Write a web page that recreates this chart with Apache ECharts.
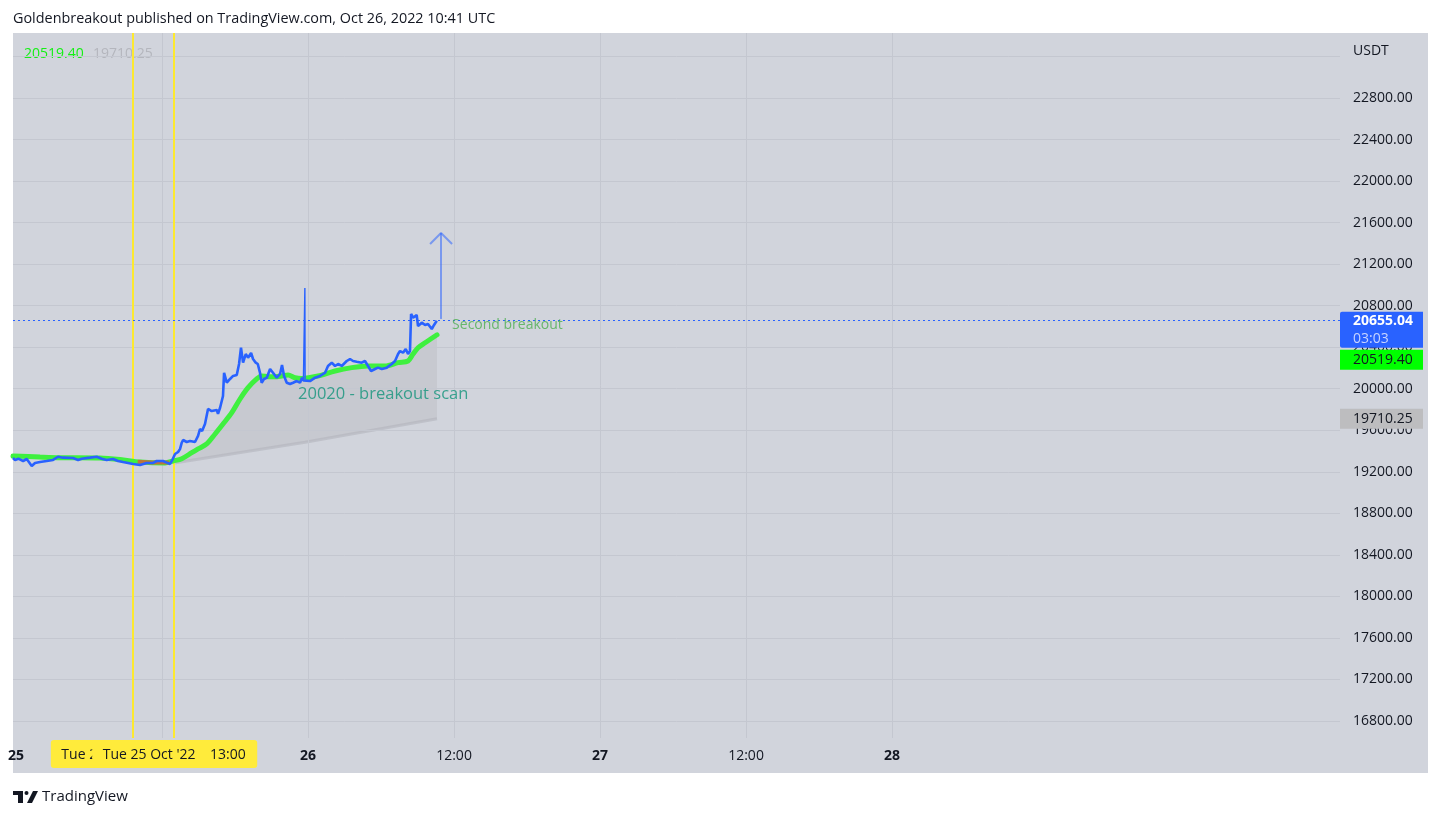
<!DOCTYPE html>
<html><head><meta charset="utf-8">
<script src="https://cdn.jsdelivr.net/npm/echarts@6/dist/echarts.min.js"></script>
<style>html,body{margin:0;padding:0;background:#fff;}#c{width:1441px;height:818px;}</style>
</head><body><div id="c"></div>
<script>
// time = hours since Tue 25 Oct 2022 00:00 UTC, values in USDT
const priceTimes = [-0.25,-0.08,0.19,0.58,0.88,1.29,1.56,1.97,2.52,3.04,3.45,3.86,4.68,5.10,5.40,6.08,6.63,7.04,7.45,7.97,8.38,8.79,9.21,9.62,10.19,10.74,11.26,11.56,12.08,12.39,12.66,12.88,13.07,13.32,13.48,13.62,13.73,14.03,14.30,14.71,14.96,15.12,15.29,15.53,15.78,16.08,16.50,16.60,16.77,17.01,17.10,17.32,17.59,17.84,18.14,18.33,18.49,18.66,18.88,19.07,19.32,19.48,19.70,19.87,20.05,20.19,20.38,20.61,20.88,21.12,21.43,21.70,21.86,22.03,22.25,22.52,22.77,23.07,23.34,23.51,23.62,23.76,24.16,24.58,24.99,25.40,25.64,25.95,26.22,26.47,26.77,27.18,27.45,27.70,28.00,28.41,28.68,28.93,29.18,29.51,29.75,30.06,30.47,30.88,31.15,31.40,31.56,31.81,32.03,32.22,32.38,32.47,32.63,32.93,33.04,33.35,33.62,33.86,34.17,34.36,34.58];
const priceValues = [19333,19314,19326,19304,19323,19256,19285,19294,19304,19314,19345,19336,19333,19314,19326,19336,19345,19326,19314,19323,19304,19294,19285,19275,19265,19285,19285,19304,19304,19288,19275,19323,19371,19391,19420,19480,19506,19487,19497,19487,19545,19612,19593,19660,19805,19785,19795,19757,19817,19930,20154,20058,20094,20123,20132,20238,20395,20251,20334,20299,20344,20286,20251,20238,20154,20058,20094,20106,20190,20154,20106,20142,20229,20123,20058,20046,20058,20074,20058,20106,20080,20094,20074,20106,20123,20154,20219,20251,20219,20238,20219,20267,20286,20267,20260,20251,20267,20219,20171,20190,20203,20190,20203,20238,20267,20334,20363,20347,20383,20334,20363,20720,20684,20710,20604,20636,20614,20623,20575,20614,20655.04];
// single-candle wick spike near 23:45
const spikeTimes = [23.62, 23.74, 23.76];
const spikeValues = [20080, 20970, 20094];

const maTimes = [-0.25,1.97,3.62,6.90,8.55,10.19,12.25,12.90,13.62,14.44,14.96,15.67,16.36,17.01,17.73,18.41,19.07,19.78,20.19,20.71,21.29,21.84,22.36,22.93,23.48,24.82,26.22,27.59,28.93,30.33,31.40,32.22,32.63,33.04,33.62,34.17,34.60];
const maValues = [19352,19342,19336,19333,19318,19294,19285,19304,19326,19384,19420,19468,19564,19660,19769,19901,20010,20094,20123,20116,20116,20123,20132,20106,20099,20123,20171,20203,20219,20219,20251,20267,20334,20395,20443,20486,20519.40];

const maRedTimes = [10.0,11.2,12.6];
const maRedValues = [19296,19289,19290];

const bandTimes = [13.0,23.75,34.60];
const bandValues = [19285,19485,19710.25];

const yTicks = [16800,17200,17600,18000,18400,18800,19200,19600,20000,20400,20800,21200,21600,22000,22400,22800];
const yGridValues = [16800,17200,17600,18000,18400,18800,19200,19600,20000,20400,20800,21200,21600,22000,22400,22800,23200];
const xTicks = [0,12,24,36,48,60,72];
const xTickLabels = ['25','12:00','26','12:00','27','12:00','28'];
const xGridValues = [12,24,36,48,60,72];

const markerTimes = [9.6, 13.0];
const markerLabels = ["Tue 25 Oct '22    09:36", "Tue 25 Oct '22    13:00"];

const lastPrice = 20655.04, lastMA = 20519.40, lastBand = 19710.25;
const countdown = '03:03';

const arrowShaftTimes = [34.93, 34.93];
const arrowShaftValues = [20672, 21500];
const arrowHeadTimes = [34.03, 34.93, 35.84];
const arrowHeadValues = [21394, 21500, 21394];

const noteTexts = ['Second breakout', '20020 - breakout scan'];
const noteTimes = [35.84, 23.18];
const noteValues = [20614, 19949];

const headerText = 'Goldenbreakout published on TradingView.com, Oct 26, 2022 10:41 UTC';

const zip = (a, b) => a.map((v, i) => [v, b[i]]);
const FONT = '"Open Sans", sans-serif';
const TXT = '#131722';

const chart = echarts.init(document.getElementById('c'), null, {renderer: 'canvas'});

const fillPts = [];
maTimes.forEach((t, i) => { if (t >= 12.9) fillPts.push([t, maValues[i]]); });
for (let i = bandTimes.length - 1; i >= 0; i--) fillPts.push([bandTimes[i], bandValues[i]]);

const option = {
  backgroundColor: '#ffffff',
  animation: false,
  grid: {left: 13, right: 101, top: 33, bottom: 80, containLabel: false},
  xAxis: {
    type: 'value', min: -0.25, max: 108.82,
    axisLine: {show: false}, axisTick: {show: false}, splitLine: {show: false},
    axisLabel: {
      customValues: xTicks, margin: 11, color: TXT, fontSize: 14, fontFamily: FONT,
      formatter: v => {
        const i = xTicks.indexOf(v);
        const s = i >= 0 ? xTickLabels[i] : '';
        return s.indexOf(':') >= 0 ? s : '{b|' + s + '}';
      },
      rich: {b: {fontWeight: 'bold', fontSize: 14, color: TXT, fontFamily: FONT}}
    }
  },
  yAxis: {
    type: 'value', position: 'right', min: 16636, max: 23426,
    axisLine: {show: false}, axisTick: {show: false}, splitLine: {show: false},
    axisLabel: {
      customValues: yTicks, margin: 13, color: TXT, fontSize: 14, fontFamily: FONT,
      formatter: v => v.toFixed(2)
    }
  },
  series: [
    {
      type: 'line', data: [[-0.25, 16800]], symbol: 'none', lineStyle: {opacity: 0}, z: 1, silent: true,
      markLine: {
        silent: true, symbol: ['none', 'none'], label: {show: false},
        lineStyle: {color: '#c4c7d0', width: 1, type: 'solid'},
        data: xGridValues.map(v => ({xAxis: v})).concat(yGridValues.map(v => ({yAxis: v})))
      }
    },
    {
      type: 'custom', z: 2, silent: true, data: [0],
      renderItem: (params, api) => ({
        type: 'polygon',
        shape: {points: fillPts.map(p => api.coord(p))},
        style: {fill: 'rgba(185,186,190,0.40)'}
      })
    },
    {
      type: 'line', data: zip(bandTimes, bandValues), symbol: 'none', z: 3, silent: true,
      lineStyle: {color: 'rgba(178,180,188,0.6)', width: 3}
    },
    {
      type: 'line', data: [[-0.25, 19300]], symbol: 'none', lineStyle: {opacity: 0}, z: 4, silent: true,
      markLine: {
        silent: true, symbol: ['none', 'none'], label: {show: false},
        data: markerTimes.map(v => ({xAxis: v, lineStyle: {color: '#fde92f', width: 2, type: 'solid'}}))
          .concat([{yAxis: lastPrice, lineStyle: {color: '#2962ff', width: 1.2, type: [2, 3]}}])
      }
    },
    {
      type: 'line', data: zip(maTimes, maValues), symbol: 'none', smooth: 0.3, z: 5, silent: true,
      lineStyle: {color: '#3ff03f', width: 5, cap: 'round'}
    },
    {
      type: 'line', data: zip(maRedTimes, maRedValues), symbol: 'none', z: 6, silent: true,
      lineStyle: {color: '#d4603a', width: 4, opacity: 0.85}
    },
    {
      type: 'line', data: zip(priceTimes, priceValues), symbol: 'none', z: 7, silent: true,
      lineStyle: {color: '#2962ff', width: 2.6}
    },
    {
      type: 'line', data: zip(spikeTimes, spikeValues), symbol: 'none', z: 7, silent: true,
      lineStyle: {color: '#2962ff', width: 1.4}
    },
    {
      type: 'line', data: zip(arrowShaftTimes, arrowShaftValues), symbol: 'none', z: 8, silent: true,
      lineStyle: {color: 'rgba(41,98,255,0.52)', width: 2}
    },
    {
      type: 'line', data: zip(arrowHeadTimes, arrowHeadValues), symbol: 'none', z: 8, silent: true,
      lineStyle: {color: 'rgba(41,98,255,0.52)', width: 2}
    },
    {
      type: 'scatter', symbolSize: 0, z: 9, silent: true,
      data: [{value: [noteTimes[0], noteValues[0]], name: noteTexts[0]}],
      label: {show: true, position: 'right', distance: 0, formatter: p => p.name, color: '#4caf50', fontSize: 14, fontFamily: FONT}
    },
    {
      type: 'scatter', symbolSize: 0, z: 9, silent: true,
      data: [{value: [noteTimes[1], noteValues[1]], name: noteTexts[1]}],
      label: {show: true, position: 'right', distance: 0, formatter: p => p.name, color: '#12937a', fontSize: 16.5, fontFamily: FONT}
    }
  ]
};
chart.setOption(option);

const px = (t) => chart.convertToPixel({xAxisIndex: 0}, t);
const py = (v) => chart.convertToPixel({yAxisIndex: 0}, v);

const yBlue = py(lastPrice), yGreen = py(lastMA), yGray = py(lastBand);
const blueTop = yBlue - 9, blueBot = yBlue + 27;
const greenTop = Math.max(yGreen - 10, blueBot + 2);

const g = [
  {type: 'rect', z: -10, silent: true, shape: {x: 13, y: 33, width: 1415, height: 740}, style: {fill: '#d1d4dc'}},
  {type: 'text', z: 100, style: {text: headerText, x: 13, y: 19, verticalAlign: 'middle', fill: TXT, font: '14.4px ' + FONT}},
  {type: 'text', z: 1, style: {text: lastMA.toFixed(2), x: 24, y: 54, verticalAlign: 'middle', fill: '#14f014', font: '14px ' + FONT}},
  {type: 'text', z: 1, style: {text: lastBand.toFixed(2), x: 93, y: 54, verticalAlign: 'middle', fill: '#b4b6bd', font: '14px ' + FONT}},
  {type: 'text', z: 100, style: {text: 'USDT', x: 1353, y: 51, verticalAlign: 'middle', fill: TXT, font: '14px ' + FONT}},
  {type: 'rect', z: 100, shape: {x: 1340, y: yGray - 10, width: 83, height: 20}, style: {fill: '#bdbdbf'}},
  {type: 'text', z: 101, style: {text: lastBand.toFixed(2), x: 1353, y: yGray, verticalAlign: 'middle', fill: TXT, font: '14px ' + FONT}},
  {type: 'rect', z: 100, shape: {x: 1340, y: greenTop, width: 83, height: 20}, style: {fill: '#00ff00'}},
  {type: 'text', z: 101, style: {text: lastMA.toFixed(2), x: 1353, y: greenTop + 10, verticalAlign: 'middle', fill: TXT, font: '14px ' + FONT}},
  {type: 'rect', z: 100, shape: {x: 1340, y: blueTop, width: 83, height: blueBot - blueTop, r: [2, 0, 0, 2]}, style: {fill: '#2962ff'}},
  {type: 'text', z: 101, style: {text: lastPrice.toFixed(2), x: 1353, y: yBlue, verticalAlign: 'middle', fill: '#ffffff', font: 'bold 14px ' + FONT}},
  {type: 'text', z: 101, style: {text: countdown, x: 1353, y: yBlue + 18, verticalAlign: 'middle', fill: '#c7d4ff', font: '14px ' + FONT}}
];
markerTimes.forEach((t, i) => {
  const cx = px(t);
  g.push({type: 'rect', z: 110 + i * 2, shape: {x: cx - 82, y: 740, width: 165, height: 28, r: 3}, style: {fill: '#ffeb3b'}});
  g.push({type: 'text', z: 111 + i * 2, style: {text: markerLabels[i], x: cx, y: 755, align: 'center', verticalAlign: 'middle', fill: TXT, font: '14px ' + FONT}});
});
g.push({type: 'rect', z: 100, shape: {x: 13, y: 791, width: 10, height: 4}, style: {fill: TXT}});
g.push({type: 'rect', z: 100, shape: {x: 18, y: 791, width: 5, height: 12}, style: {fill: TXT}});
g.push({type: 'circle', z: 100, shape: {cx: 26.5, cy: 793, r: 2}, style: {fill: TXT}});
g.push({type: 'polygon', z: 100, shape: {points: [[27, 803], [32, 803], [38, 791], [33, 791]]}, style: {fill: TXT}});
g.push({type: 'text', z: 100, style: {text: 'TradingView', x: 42, y: 797, verticalAlign: 'middle', fill: TXT, font: '15px ' + FONT}});

chart.setOption({graphic: {elements: g}});
</script>
</body></html>
